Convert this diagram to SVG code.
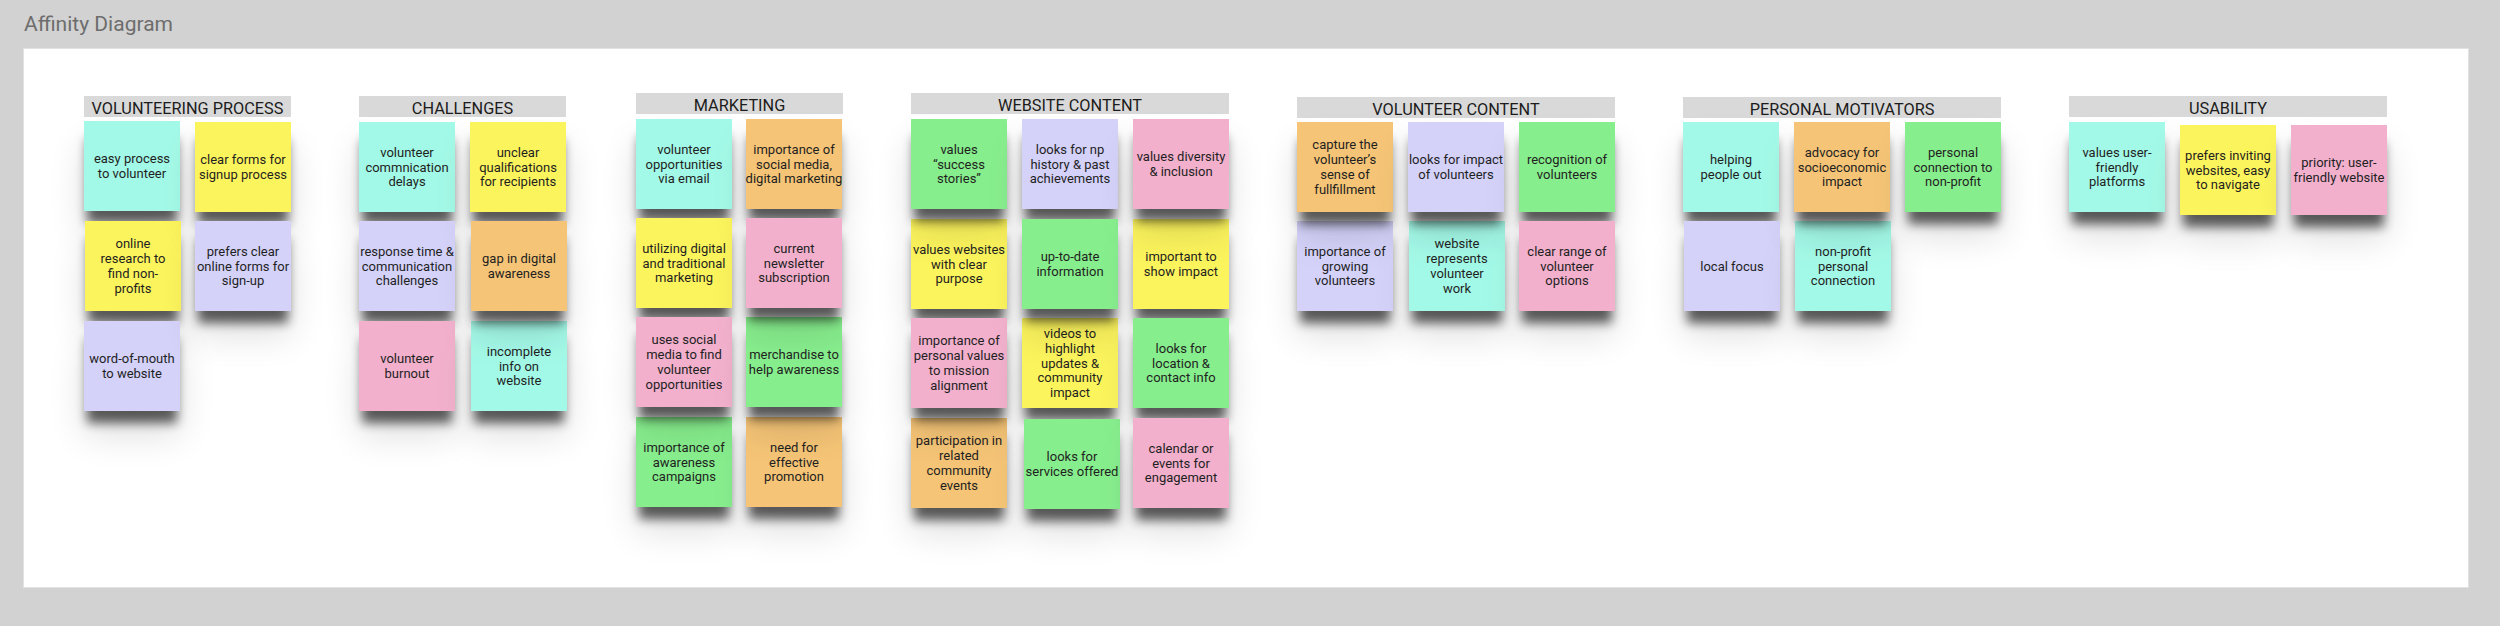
<svg xmlns="http://www.w3.org/2000/svg" width="2500" height="626" viewBox="0 0 2500 626">
<style>
.bg{fill:#d2d2d2}
.panel{fill:#ffffff;stroke:#e2e2e2;stroke-width:1}
.title{font-family:Roboto,"Liberation Sans",sans-serif;font-size:21px;fill:#6d6d6d}
.hdr{fill:#d9d9d9}
.ht{font-family:Roboto,"Liberation Sans",sans-serif;font-size:16.3px;fill:#1c1c1c;text-anchor:middle}
.s{filter:url(#sh)}
.t{font-family:Roboto,"Liberation Sans",sans-serif;font-size:13px;fill:#1f1f1f;text-anchor:middle}
.mint{fill:#a3f9e7}
.yel{fill:#fcf45c}
.lav{fill:#d4d2f9}
.ora{fill:#f5c476}
.pink{fill:#f2b0cc}
.grn{fill:#87ee8d}
</style>
<defs>
<filter id="sh" x="-60%" y="-50%" width="220%" height="240%">
<feMorphology in="SourceAlpha" operator="erode" radius="3" result="e"/>
<feGaussianBlur in="e" stdDeviation="5.5" result="b1"/>
<feOffset in="b1" dy="15" result="o1"/>
<feComponentTransfer in="o1" result="s1"><feFuncA type="linear" slope="0.62"/></feComponentTransfer>
<feGaussianBlur in="SourceAlpha" stdDeviation="18" result="b2"/>
<feOffset in="b2" dy="24" result="o2"/>
<feComponentTransfer in="o2" result="s2"><feFuncA type="linear" slope="0.13"/></feComponentTransfer>
<feMerge><feMergeNode in="s2"/><feMergeNode in="s1"/><feMergeNode in="SourceGraphic"/></feMerge>
</filter>
</defs>
<rect class="bg" x="0" y="0" width="2500" height="626"/>
<text class="title" x="24" y="31">Affinity Diagram</text>
<rect class="panel" x="23.5" y="48.5" width="2445" height="539"/>

<g id="connectors"/>

<!-- VOLUNTEERING PROCESS -->
<g id="h-volunteering-process"><rect class="hdr" x="84" y="96" width="207" height="21"/><text class="ht" x="187.5" y="114">VOLUNTEERING PROCESS</text></g>
<g id="n-easy-process"><rect class="s mint" x="84" y="121" width="96" height="90"/><text class="t" y="163.1"><tspan x="132">easy process</tspan><tspan x="132" dy="14.8">to volunteer</tspan></text></g>
<g id="n-online-research"><rect class="s yel" x="85" y="221" width="96" height="90"/><text class="t" y="248.3"><tspan x="133">online</tspan><tspan x="133" dy="14.8">research to</tspan><tspan x="133" dy="14.8">find non-</tspan><tspan x="133" dy="14.8">profits</tspan></text></g>
<g id="n-word-of-mouth"><rect class="s lav" x="84" y="321" width="96" height="90"/><text class="t" y="363.1"><tspan x="132">word-of-mouth</tspan><tspan x="132" dy="14.8">to website</tspan></text></g>
<g id="n-clear-forms"><rect class="s yel" x="195" y="122" width="96" height="90"/><text class="t" y="164.1"><tspan x="243">clear forms for</tspan><tspan x="243" dy="14.8">signup process</tspan></text></g>
<g id="n-prefers-clear"><rect class="s lav" x="195" y="221" width="96" height="90"/><text class="t" y="255.7"><tspan x="243">prefers clear</tspan><tspan x="243" dy="14.8">online forms for</tspan><tspan x="243" dy="14.8">sign-up</tspan></text></g>

<!-- CHALLENGES -->
<g id="h-challenges"><rect class="hdr" x="359" y="96" width="207" height="21"/><text class="ht" x="462.5" y="114">CHALLENGES</text></g>
<g id="n-commnication-delays"><rect class="s mint" x="359" y="122" width="96" height="90"/><text class="t" y="156.7"><tspan x="407">volunteer</tspan><tspan x="407" dy="14.8">commnication</tspan><tspan x="407" dy="14.8">delays</tspan></text></g>
<g id="n-response-time"><rect class="s lav" x="359" y="221" width="96" height="90"/><text class="t" y="255.7"><tspan x="407">response time &amp;</tspan><tspan x="407" dy="14.8">communication</tspan><tspan x="407" dy="14.8">challenges</tspan></text></g>
<g id="n-burnout"><rect class="s pink" x="359" y="321" width="96" height="90"/><text class="t" y="363.1"><tspan x="407">volunteer</tspan><tspan x="407" dy="14.8">burnout</tspan></text></g>
<g id="n-incomplete-info"><rect class="s mint" x="471" y="321" width="96" height="90"/><text class="t" y="355.7"><tspan x="519">incomplete</tspan><tspan x="519" dy="14.8">info on</tspan><tspan x="519" dy="14.8">website</tspan></text></g>
<g id="n-unclear-qualifications"><rect class="s yel" x="470" y="122" width="96" height="90"/><text class="t" y="156.7"><tspan x="518">unclear</tspan><tspan x="518" dy="14.8">qualifications</tspan><tspan x="518" dy="14.8">for recipients</tspan></text></g>
<g id="n-gap-digital"><rect class="s ora" x="471" y="221" width="96" height="90"/><text class="t" y="263.1"><tspan x="519">gap in digital</tspan><tspan x="519" dy="14.8">awareness</tspan></text></g>

<!-- MARKETING -->
<g id="h-marketing"><rect class="hdr" x="636" y="93" width="207" height="21"/><text class="ht" x="739.5" y="111">MARKETING</text></g>
<g id="n-opps-email"><rect class="s mint" x="636" y="119" width="96" height="90"/><text class="t" y="153.7"><tspan x="684">volunteer</tspan><tspan x="684" dy="14.8">opportunities</tspan><tspan x="684" dy="14.8">via email</tspan></text></g>
<g id="n-utilizing-digital"><rect class="s yel" x="636" y="218" width="96" height="90"/><text class="t" y="252.7"><tspan x="684">utilizing digital</tspan><tspan x="684" dy="14.8">and traditional</tspan><tspan x="684" dy="14.8">marketing</tspan></text></g>
<g id="n-awareness-campaigns"><rect class="s grn" x="636" y="417" width="96" height="90"/><text class="t" y="451.7"><tspan x="684">importance of</tspan><tspan x="684" dy="14.8">awareness</tspan><tspan x="684" dy="14.8">campaigns</tspan></text></g>
<g id="n-uses-social"><rect class="s pink" x="636" y="317" width="96" height="90"/><text class="t" y="344.3"><tspan x="684">uses social</tspan><tspan x="684" dy="14.8">media to find</tspan><tspan x="684" dy="14.8">volunteer</tspan><tspan x="684" dy="14.8">opportunities</tspan></text></g>
<g id="n-effective-promotion"><rect class="s ora" x="746" y="417" width="96" height="90"/><text class="t" y="451.7"><tspan x="794">need for</tspan><tspan x="794" dy="14.8">effective</tspan><tspan x="794" dy="14.8">promotion</tspan></text></g>
<g id="n-merchandise"><rect class="s grn" x="746" y="317" width="96" height="90"/><text class="t" y="359.1"><tspan x="794">merchandise to</tspan><tspan x="794" dy="14.8">help awareness</tspan></text></g>
<g id="n-social-media"><rect class="s ora" x="746" y="119" width="96" height="90"/><text class="t" y="153.7"><tspan x="794">importance of</tspan><tspan x="794" dy="14.8">social media,</tspan><tspan x="794" dy="14.8">digital marketing</tspan></text></g>
<g id="n-newsletter"><rect class="s pink" x="746" y="218" width="96" height="90"/><text class="t" y="252.7"><tspan x="794">current</tspan><tspan x="794" dy="14.8">newsletter</tspan><tspan x="794" dy="14.8">subscription</tspan></text></g>

<!-- WEBSITE CONTENT -->
<g id="h-website-content"><rect class="hdr" x="911" y="93" width="318" height="21"/><text class="ht" x="1070" y="111">WEBSITE CONTENT</text></g>
<g id="n-clear-purpose"><rect class="s yel" x="911" y="219" width="96" height="90"/><text class="t" y="253.7"><tspan x="959">values websites</tspan><tspan x="959" dy="14.8">with clear</tspan><tspan x="959" dy="14.8">purpose</tspan></text></g>
<g id="n-success-stories"><rect class="s grn" x="911" y="119" width="96" height="90"/><text class="t" y="153.7"><tspan x="959">values</tspan><tspan x="959" dy="14.8">“success</tspan><tspan x="959" dy="14.8">stories”</tspan></text></g>
<g id="n-participation"><rect class="s ora" x="911" y="418" width="96" height="90"/><text class="t" y="445.3"><tspan x="959">participation in</tspan><tspan x="959" dy="14.8">related</tspan><tspan x="959" dy="14.8">community</tspan><tspan x="959" dy="14.8">events</tspan></text></g>
<g id="n-personal-values"><rect class="s pink" x="911" y="318" width="96" height="90"/><text class="t" y="345.3"><tspan x="959">importance of</tspan><tspan x="959" dy="14.8">personal values</tspan><tspan x="959" dy="14.8">to mission</tspan><tspan x="959" dy="14.8">alignment</tspan></text></g>
<g id="n-np-history"><rect class="s lav" x="1022" y="119" width="96" height="90"/><text class="t" y="153.7"><tspan x="1070">looks for np</tspan><tspan x="1070" dy="14.8">history &amp; past</tspan><tspan x="1070" dy="14.8">achievements</tspan></text></g>
<g id="n-videos"><rect class="s yel" x="1022" y="318" width="96" height="90"/><text class="t" y="337.9"><tspan x="1070">videos to</tspan><tspan x="1070" dy="14.8">highlight</tspan><tspan x="1070" dy="14.8">updates &amp;</tspan><tspan x="1070" dy="14.8">community</tspan><tspan x="1070" dy="14.8">impact</tspan></text></g>
<g id="n-up-to-date"><rect class="s grn" x="1022" y="219" width="96" height="90"/><text class="t" y="261.1"><tspan x="1070">up-to-date</tspan><tspan x="1070" dy="14.8">information</tspan></text></g>
<g id="n-services"><rect class="s grn" x="1024" y="419" width="96" height="90"/><text class="t" y="461.1"><tspan x="1072">looks for</tspan><tspan x="1072" dy="14.8">services offered</tspan></text></g>
<g id="n-show-impact"><rect class="s yel" x="1133" y="219" width="96" height="90"/><text class="t" y="261.1"><tspan x="1181">important to</tspan><tspan x="1181" dy="14.8">show impact</tspan></text></g>
<g id="n-diversity"><rect class="s pink" x="1133" y="119" width="96" height="90"/><text class="t" y="161.1"><tspan x="1181">values diversity</tspan><tspan x="1181" dy="14.8">&amp; inclusion</tspan></text></g>
<g id="n-location"><rect class="s grn" x="1133" y="318" width="96" height="90"/><text class="t" y="352.7"><tspan x="1181">looks for</tspan><tspan x="1181" dy="14.8">location &amp;</tspan><tspan x="1181" dy="14.8">contact info</tspan></text></g>
<g id="n-calendar"><rect class="s pink" x="1133" y="418" width="96" height="90"/><text class="t" y="452.7"><tspan x="1181">calendar or</tspan><tspan x="1181" dy="14.8">events for</tspan><tspan x="1181" dy="14.8">engagement</tspan></text></g>

<!-- VOLUNTEER CONTENT -->
<g id="h-volunteer-content"><rect class="hdr" x="1297" y="97" width="318" height="21"/><text class="ht" x="1456" y="115">VOLUNTEER CONTENT</text></g>
<g id="n-growing"><rect class="s lav" x="1297" y="221" width="96" height="90"/><text class="t" y="255.7"><tspan x="1345">importance of</tspan><tspan x="1345" dy="14.8">growing</tspan><tspan x="1345" dy="14.8">volunteers</tspan></text></g>
<g id="n-fullfillment"><rect class="s ora" x="1297" y="122" width="96" height="90"/><text class="t" y="149.3"><tspan x="1345">capture the</tspan><tspan x="1345" dy="14.8">volunteer’s</tspan><tspan x="1345" dy="14.8">sense of</tspan><tspan x="1345" dy="14.8">fullfillment</tspan></text></g>
<g id="n-represents"><rect class="s mint" x="1409" y="221" width="96" height="90"/><text class="t" y="248.3"><tspan x="1457">website</tspan><tspan x="1457" dy="14.8">represents</tspan><tspan x="1457" dy="14.8">volunteer</tspan><tspan x="1457" dy="14.8">work</tspan></text></g>
<g id="n-impact-volunteers"><rect class="s lav" x="1408" y="122" width="96" height="90"/><text class="t" y="164.1"><tspan x="1456">looks for impact</tspan><tspan x="1456" dy="14.8">of volunteers</tspan></text></g>
<g id="n-recognition"><rect class="s grn" x="1519" y="122" width="96" height="90"/><text class="t" y="164.1"><tspan x="1567">recognition of</tspan><tspan x="1567" dy="14.8">volunteers</tspan></text></g>
<g id="n-clear-range"><rect class="s pink" x="1519" y="221" width="96" height="90"/><text class="t" y="255.7"><tspan x="1567">clear range of</tspan><tspan x="1567" dy="14.8">volunteer</tspan><tspan x="1567" dy="14.8">options</tspan></text></g>

<!-- PERSONAL MOTIVATORS -->
<g id="h-personal-motivators"><rect class="hdr" x="1683" y="97" width="318" height="21"/><text class="ht" x="1842" y="115">PERSONAL MOTIVATORS</text></g>
<g id="n-helping"><rect class="s mint" x="1683" y="122" width="96" height="90"/><text class="t" y="164.1"><tspan x="1731">helping</tspan><tspan x="1731" dy="14.8">people out</tspan></text></g>
<g id="n-local-focus"><rect class="s lav" x="1684" y="221" width="96" height="90"/><text class="t" x="1732" y="270.5">local focus</text></g>
<g id="n-np-personal"><rect class="s mint" x="1795" y="221" width="96" height="90"/><text class="t" y="255.7"><tspan x="1843">non-profit</tspan><tspan x="1843" dy="14.8">personal</tspan><tspan x="1843" dy="14.8">connection</tspan></text></g>
<g id="n-advocacy"><rect class="s ora" x="1794" y="122" width="96" height="90"/><text class="t" y="156.7"><tspan x="1842">advocacy for</tspan><tspan x="1842" dy="14.8">socioeconomic</tspan><tspan x="1842" dy="14.8">impact</tspan></text></g>
<g id="n-personal-connection"><rect class="s grn" x="1905" y="122" width="96" height="90"/><text class="t" y="156.7"><tspan x="1953">personal</tspan><tspan x="1953" dy="14.8">connection to</tspan><tspan x="1953" dy="14.8">non-profit</tspan></text></g>

<!-- USABILITY -->
<g id="h-usability"><rect class="hdr" x="2069" y="96" width="318" height="21"/><text class="ht" x="2228" y="114">USABILITY</text></g>
<g id="n-user-friendly-platforms"><rect class="s mint" x="2069" y="122" width="96" height="90"/><text class="t" y="156.7"><tspan x="2117">values user-</tspan><tspan x="2117" dy="14.8">friendly</tspan><tspan x="2117" dy="14.8">platforms</tspan></text></g>
<g id="n-inviting"><rect class="s yel" x="2180" y="125" width="96" height="90"/><text class="t" y="159.7"><tspan x="2228">prefers inviting</tspan><tspan x="2228" dy="14.8">websites, easy</tspan><tspan x="2228" dy="14.8">to navigate</tspan></text></g>
<g id="n-priority"><rect class="s pink" x="2291" y="125" width="96" height="90"/><text class="t" y="167.1"><tspan x="2339">priority: user-</tspan><tspan x="2339" dy="14.8">friendly website</tspan></text></g>
</svg>
